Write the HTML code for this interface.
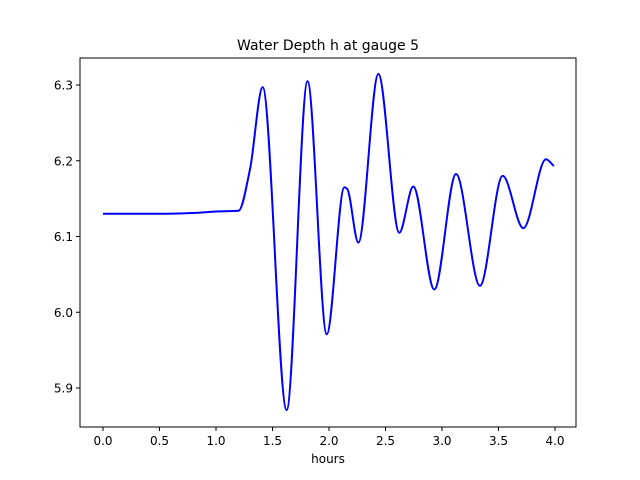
<!DOCTYPE html>
<html><head><meta charset="utf-8"><style>body{margin:0;background:#fff}svg{display:block;font-family:"DejaVu Sans","Liberation Sans",sans-serif}</style></head>
<body>
<svg id="c" width="640" height="480"></svg>
<script>
const hours=[0,0.5,0.8,1.0,1.2,1.3,1.413,1.625,1.81,1.98,2.136,2.16,2.26,2.437,2.622,2.746,2.932,3.124,3.336,3.537,3.72,3.92,3.99];
const depth=[6.130,6.130,6.131,6.133,6.134,6.188,6.297,5.871,6.305,5.971,6.165,6.163,6.092,6.3145,6.105,6.166,6.030,6.1825,6.035,6.180,6.111,6.202,6.193];
const xTicks=[0,0.5,1,1.5,2,2.5,3,3.5,4];
const xTickLabels=["0.0","0.5","1.0","1.5","2.0","2.5","3.0","3.5","4.0"];
const yTicks=[5.9,6.0,6.1,6.2,6.3];
const yTickLabels=["5.9","6.0","6.1","6.2","6.3"];
const L=80,R=576,T=58,B=427;
const X=v=>103+v*113, Y=v=>85+(6.3-v)*757.5;
const svg=document.getElementById('c'),NS='http://www.w3.org/2000/svg';
function mk(t,a,p){const e=document.createElementNS(NS,t);for(const k in a)e.setAttribute(k,a[k]);(p||svg).appendChild(e);return e;}
const n=hours.length,xs=hours.map(X),ys=depth.map(Y);
const d=[],m=[];
for(let i=0;i<n-1;i++)d.push((ys[i+1]-ys[i])/(xs[i+1]-xs[i]));
m[0]=d[0];m[n-1]=d[n-2];
for(let i=1;i<n-1;i++){if(d[i-1]*d[i]<=0)m[i]=0;else{const w1=2*(xs[i+1]-xs[i])+(xs[i]-xs[i-1]),w2=(xs[i+1]-xs[i])+2*(xs[i]-xs[i-1]);m[i]=(w1+w2)/(w1/d[i-1]+w2/d[i]);}}
let p='M'+xs[0]+','+ys[0];
for(let i=0;i<n-1;i++){const h=(xs[i+1]-xs[i])/3;p+=' C'+(xs[i]+h)+','+(ys[i]+m[i]*h)+' '+(xs[i+1]-h)+','+(ys[i+1]-m[i+1]*h)+' '+xs[i+1]+','+ys[i+1];}
const ln=mk('path',{d:p,fill:'none',stroke:'#0000ff','stroke-width':2});


const fr=mk('rect',{x:L,y:T,width:R-L,height:B-T,fill:'none',stroke:'#000','stroke-width':1});


xTicks.forEach((v,i)=>{mk('line',{x1:X(v),x2:X(v),y1:B,y2:B+4,stroke:'#000'});
const t=mk('text',{x:X(v),y:B+18,'text-anchor':'middle','font-size':12});t.textContent=xTickLabels[i];

});
yTicks.forEach((v,i)=>{mk('line',{x1:L-4,x2:L,y1:Y(v),y2:Y(v),stroke:'#000'});
const t=mk('text',{x:L-7,y:Y(v)+4.5,'text-anchor':'end','font-size':12});t.textContent=yTickLabels[i];

});
const xt=mk('text',{x:328,y:463,'text-anchor':'middle','font-size':12});xt.textContent='hours';


const tt=mk('text',{x:328,y:50,'text-anchor':'middle','font-size':14});tt.textContent='Water Depth h at gauge 5';


</script>
</body></html>
